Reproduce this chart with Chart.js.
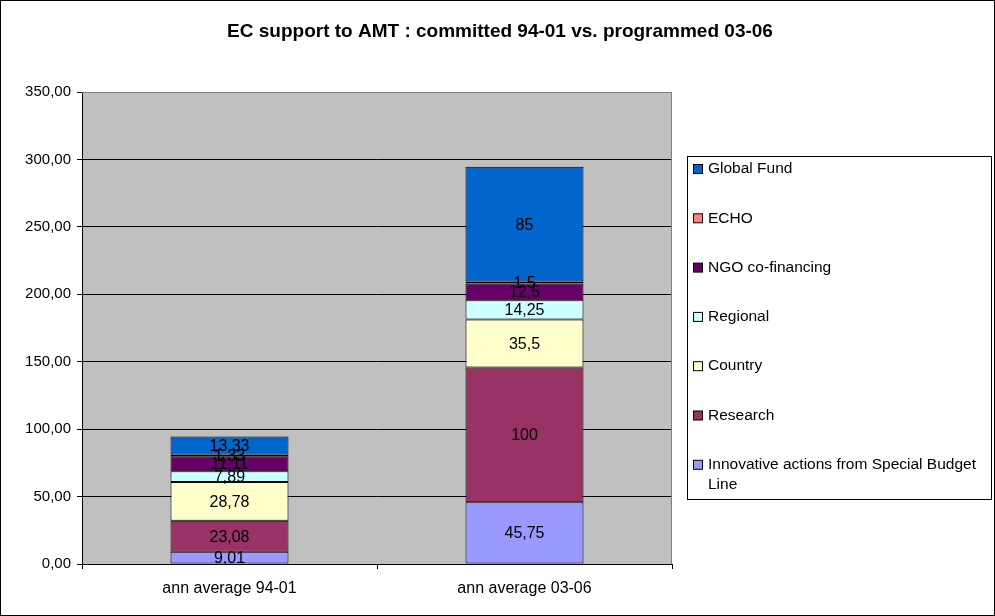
<!DOCTYPE html>
<html>
<head>
<meta charset="utf-8">
<script src="https://cdn.jsdelivr.net/npm/chart.js@4.4.1/dist/chart.umd.min.js"></script>
<style>
html,body{margin:0;padding:0;background:#fff;}
#wrap{width:995px;height:616px;position:relative;}
</style>
</head>
<body>
<div id="wrap"><canvas id="c" width="995" height="616"></canvas></div>
<script>
const categories = ["ann average 94-01", "ann average 03-06"];
const innovative = [9.01, 45.75];
const research = [23.08, 100];
const country = [28.78, 35.5];
const regional = [7.89, 14.25];
const ngo = [11.11, 12.5];
const echo = [1.33, 1.5];
const globalFund = [13.33, 85];
const yTicks = [0, 50, 100, 150, 200, 250, 300, 350];
const titleText = "EC support to AMT : committed 94-01 vs. programmed 03-06";

const FONT = '"Liberation Sans", Arial, sans-serif';

const series = [
  {label: "Innovative actions from Special Budget Line", data: innovative, color: "#9999FF"},
  {label: "Research", data: research, color: "#993366"},
  {label: "Country", data: country, color: "#FFFFCC"},
  {label: "Regional", data: regional, color: "#CCFFFF"},
  {label: "NGO co-financing", data: ngo, color: "#660066"},
  {label: "ECHO", data: echo, color: "#FF8080"},
  {label: "Global Fund", data: globalFund, color: "#0066CC"}
];

const decor = {
  id: 'decor',
  beforeDraw(chart) {
    const {ctx, chartArea: a} = chart;
    ctx.save();
    ctx.fillStyle = '#fff';
    ctx.fillRect(0, 0, chart.width, chart.height);
    ctx.fillStyle = '#C0C0C0';
    ctx.fillRect(a.left, a.top, a.right - a.left, a.bottom - a.top);
    ctx.restore();
  },
  afterDatasetsDraw(chart) {
    const {ctx} = chart;
    ctx.save();
    ctx.font = '16px ' + FONT;
    ctx.fillStyle = '#000';
    ctx.textAlign = 'center';
    ctx.textBaseline = 'middle';
    chart.data.datasets.forEach((ds, i) => {
      const meta = chart.getDatasetMeta(i);
      meta.data.forEach((el, j) => {
        const v = ds.data[j];
        const y = (el.y + el.base) / 2;
        ctx.fillText(String(v).replace('.', ','), el.x, y + 1);
      });
    });
    ctx.restore();
  },
  afterDraw(chart) {
    const {ctx, chartArea: a} = chart;
    ctx.save();
    ctx.strokeStyle = '#808080';
    ctx.lineWidth = 1;
    ctx.beginPath();
    ctx.moveTo(a.left, a.top + 0.5);
    ctx.lineTo(a.right - 0.5, a.top + 0.5);
    ctx.lineTo(a.right - 0.5, a.bottom);
    ctx.stroke();
    ctx.fillStyle = '#000';
    ctx.font = 'bold 19px ' + FONT;
    ctx.textAlign = 'center';
    ctx.textBaseline = 'middle';
    ctx.fillText(titleText, 500, 32);
    ctx.strokeStyle = '#000';
    ctx.strokeRect(0.5, 0.5, chart.width - 1, chart.height - 1);
    const bx = 687, by = 156, bw = 304, bh = 343;
    ctx.strokeRect(bx + 0.5, by + 0.5, bw, bh);
    ctx.font = '15.5px ' + FONT;
    ctx.textAlign = 'left';
    const ds = chart.data.datasets.slice().reverse();
    const step = 49.3;
    ds.forEach((d, k) => {
      const cy = 169 + k * step;
      ctx.fillStyle = d.backgroundColor;
      ctx.fillRect(693.5, cy - 4.5, 9, 9);
      ctx.strokeStyle = '#000';
      ctx.strokeRect(693.5, cy - 4.5, 9, 9);
      ctx.fillStyle = '#000';
      const maxW = bx + bw - 708 - 2;
      const words = d.label.split(' ');
      let lines = [], cur = '';
      words.forEach(w => {
        const t = cur ? cur + ' ' + w : w;
        if (ctx.measureText(t).width > maxW && cur) { lines.push(cur); cur = w; } else cur = t;
      });
      lines.push(cur);
      lines.forEach((ln, li) => ctx.fillText(ln, 708, cy + li * 20));
    });
    ctx.restore();
  }
};

new Chart(document.getElementById('c'), {
  type: 'bar',
  data: {
    labels: categories,
    datasets: series.map(s => ({
      label: s.label,
      data: s.data,
      backgroundColor: s.color,
      borderColor: '#000',
      borderWidth: 1,
      borderSkipped: false,
      categoryPercentage: 1,
      barPercentage: 0.4
    }))
  },
  options: {
    responsive: false,
    animation: false,
    devicePixelRatio: 1,
    layout: {padding: {left: 0, right: 323, top: 92, bottom: 0}},
    plugins: {legend: {display: false}, title: {display: false}, tooltip: {enabled: false}},
    scales: {
      x: {
        stacked: true,
        afterFit(s) { s.height = 52; },
        grid: {drawOnChartArea: false, drawTicks: true, tickLength: 5, color: '#000', offset: true},
        border: {color: '#000'},
        ticks: {color: '#000', font: {family: FONT, size: 16}, padding: 10}
      },
      y: {
        stacked: true,
        min: 0, max: 350,
        afterFit(s) { s.width = 82; },
        afterBuildTicks(s) { s.ticks = yTicks.map(v => ({value: v})); },
        grid: {color: ctx => ctx.tick && ctx.tick.value === 350 ? '#808080' : '#000', tickColor: '#000', tickLength: 5, drawTicks: true},
        border: {color: '#000'},
        ticks: {color: '#000', font: {family: FONT, size: 15}, padding: 6,
          callback: v => Number(v).toFixed(2).replace('.', ',')}
      }
    }
  },
  plugins: [decor]
});
</script>
</body>
</html>
